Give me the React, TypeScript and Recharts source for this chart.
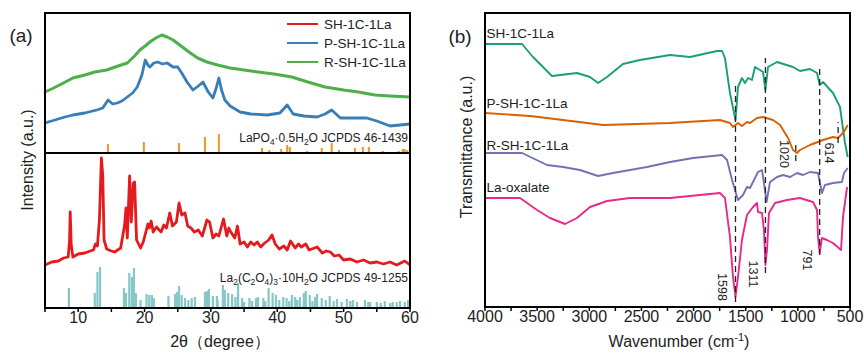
import React from 'react';
import {
  ComposedChart,
  Line,
  XAxis,
  YAxis,
  ReferenceLine,
  ReferenceDot,
  Legend,
} from 'recharts';

const FONT = '"Liberation Sans", Arial, Helvetica, sans-serif';

const xrdTicks = [5, 10, 15, 20, 25, 30, 35, 40, 45, 50, 55, 60];
const xrdDomain: [number, number] = [5, 60];
const xrdRange: [number, number] = [0, 295];

const shXrd: [number, number][] = [
  [5, 43], [6, 46], [7, 47], [7.8, 50], [8.5, 51], [8.7, 68], [8.8, 96], [8.95, 63], [9.2, 51], [10, 54], [11, 55], [11.8, 57], [12.3, 58],
  [12.6, 64], [12.9, 62], [13.2, 88], [13.5, 150], [13.7, 133], [13.9, 68], [14.3, 59], [15.0, 57], [15.5, 56],
  [16.4, 60], [17.0, 83], [17.2, 100], [17.4, 70], [17.75, 132], [18.0, 86], [18.3, 125], [18.5, 126],
  [18.8, 68], [19.4, 60], [19.8, 66], [20.2, 76], [20.5, 84], [20.7, 80], [21.0, 87], [21.3, 76], [21.8, 81], [22.2, 78], [22.5, 76], [22.9, 83], [23.3, 80],
  [23.8, 95], [24.2, 82], [24.8, 86], [25.2, 105], [25.6, 93], [26.1, 95], [26.5, 82], [27.0, 80], [27.5, 76], [28.1, 78],
  [28.7, 72], [29.4, 88], [29.8, 86], [30.3, 70], [30.8, 74], [31.2, 72], [31.9, 89], [32.4, 72], [32.7, 80], [33.0, 76],
  [33.6, 70], [34.0, 82], [34.4, 64], [35.0, 66], [35.5, 61], [36.0, 66], [36.5, 63], [37.0, 66], [37.5, 61], [38.1, 65], [38.7, 68], [39.2, 73],
  [39.7, 64], [40.3, 59], [41.0, 62], [41.5, 58], [42.0, 67], [42.7, 60], [43.2, 64], [43.6, 61], [44.3, 64], [44.8, 58], [45.2, 59],
  [46.0, 61], [46.8, 55], [47.4, 57], [48.0, 56], [48.6, 52], [49.3, 53], [50, 48], [51, 49], [52, 46], [53, 48], [54, 45], [55, 46], [56, 44], [57, 46], [58, 43],
  [59.2, 47], [60, 43],
];

const pShXrd: [number, number][] = [
  [5, 185], [6.5, 188], [8, 191], [9.2, 193], [11, 195], [12.8, 198], [13.7, 200], [14.5, 208],
  [15.2, 204], [15.9, 205], [16.6, 207], [17.4, 211], [18.2, 215], [18.9, 221], [19.6, 233],
  [20.1, 248], [20.5, 243], [20.8, 241], [21.4, 245], [22, 246], [22.7, 244], [23.4, 245], [24.3, 241],
  [25, 241], [25.7, 234], [26.4, 226], [27.3, 218], [28.1, 222], [28.8, 226], [29.6, 216], [30.3, 210],
  [30.8, 220], [31.2, 230], [31.6, 218], [32.1, 208], [32.9, 202], [34.4, 196], [36, 194], [38.5, 193],
  [40.4, 195], [41.5, 203], [42.4, 194], [44, 192], [46, 191], [47.2, 194], [48.2, 198], [49.5, 190],
  [51, 190], [53.5, 190], [55, 187], [57, 182], [58.5, 183], [60, 184],
];

const rShXrd: [number, number][] = [
  [5, 216], [6, 219], [7.5, 224], [9.2, 230], [11, 233], [12.5, 236], [14.3, 238], [16, 242],
  [17.4, 245], [18.5, 252], [19.3, 258], [20.1, 262], [20.8, 266], [21.7, 270], [22.6, 273],
  [23.4, 271], [24.3, 268], [25.5, 262], [26.9, 255], [28, 250], [29.4, 246], [31, 243], [32.9, 240],
  [35, 238], [37.1, 236], [39.5, 234], [42.2, 231], [44.6, 226], [47.2, 221], [50, 218], [52.2, 216],
  [54.7, 213], [57, 212], [60, 211],
];

const lapo4Sticks: [number, number][] = [
  [14.5, 9], [19.9, 11], [25.2, 10], [29.1, 16], [31.2, 19], [37.7, 5], [38.8, 3], [40.6, 4],
  [41.5, 8], [41.9, 6], [44.5, 2], [46.7, 5], [48.2, 10], [49.3, 3], [51.7, 5], [52.9, 6], [53.8, 6],
  [55.9, 2], [58.3, 2], [58.9, 4], [59.2, 4], [59.6, 3],
];
const lapo4Base = 155;

const oxalateSticks: [number, number][] = [
  [8.6, 20], [12.5, 15], [12.9, 36], [13.3, 41], [16.9, 20], [17.2, 15], [17.7, 35], [18.1, 31],
  [18.4, 40], [18.7, 15], [19.4, 8], [20.3, 14], [20.7, 13], [21.1, 13], [21.4, 10], [23.6, 12],
  [24.6, 14], [24.9, 16], [25.2, 22], [25.6, 13], [26.1, 10], [26.6, 8], [27.1, 10], [27.6, 11],
  [29.1, 16], [29.4, 17], [29.7, 19], [30.3, 12], [30.9, 12], [31.0, 8], [31.8, 23], [32.1, 18],
  [32.6, 15], [33.2, 14], [33.7, 11], [34.1, 25], [34.7, 10], [35.0, 6], [35.8, 10], [36.2, 7],
  [36.8, 10], [37.1, 11], [37.9, 10], [38.2, 7], [38.7, 20], [39.3, 15], [39.8, 13], [40.3, 8],
  [40.9, 11], [41.4, 10], [41.8, 7], [42.2, 13], [42.7, 11], [43.0, 8], [43.4, 11], [44.0, 15],
  [44.3, 17], [44.9, 13], [45.3, 7], [45.7, 11], [46.0, 14], [46.7, 10], [47.3, 8], [47.9, 12],
  [48.5, 7], [49.0, 9], [49.7, 6], [50.5, 9], [51.0, 7], [51.4, 8], [52.0, 6], [53.2, 8], [53.7, 6],
  [54.0, 6], [55.0, 6], [55.6, 5], [56.2, 7], [57.0, 5], [57.4, 6], [58.0, 6], [58.5, 7], [59.2, 6],
  [59.7, 8],
];
const oxalateBase = 0;

const legendItems: [string, string][] = [
  ['SH-1C-1La', '#e41a1c'],
  ['P-SH-1C-1La', '#377eb8'],
  ['R-SH-1C-1La', '#4daf4a'],
];

const irTicks = [4000, 3750, 3500, 3250, 3000, 2750, 2500, 2250, 2000, 1750, 1500, 1250, 1000, 750, 500];
const irDomain: [number, number] = [500, 4000];
const irRange: [number, number] = [0, 294];

const shIr: [number, number][] = [
  [4000, 263], [3645, 263], [3540, 250], [3358, 231], [3118, 234], [2993, 230], [2916, 224],
  [2830, 230], [2677, 243], [2514, 247], [2226, 252], [2034, 250], [1775, 256], [1727, 256],
  [1699, 249], [1651, 214], [1598, 187], [1574, 220], [1536, 229], [1507, 224], [1478, 229],
  [1440, 227], [1411, 240], [1363, 237], [1334, 235], [1311, 217], [1286, 240], [1200, 245],
  [1047, 240], [980, 236], [884, 238], [816, 234], [791, 222], [759, 225], [663, 214], [596, 200],
  [548, 164], [522, 150],
];

const pShIr: [number, number][] = [
  [4000, 194], [3568, 191], [3252, 187], [2868, 182], [2542, 183], [2226, 184], [1747, 187],
  [1651, 184], [1622, 180], [1574, 184], [1536, 181], [1488, 185], [1459, 184], [1392, 189],
  [1334, 190], [1238, 187], [1171, 182], [1094, 169], [1047, 157], [1008, 154], [980, 157],
  [884, 162], [759, 167], [663, 170], [615, 169], [567, 174], [548, 177], [522, 182],
];

const rShIr: [number, number][] = [
  [4000, 154], [3645, 154], [3405, 142], [3252, 140], [3089, 137], [2916, 131], [2773, 134],
  [2610, 137], [2447, 140], [2226, 145], [2005, 149], [1727, 152], [1679, 147], [1631, 127],
  [1574, 107], [1526, 112], [1488, 120], [1459, 119], [1411, 129], [1382, 135], [1344, 137],
  [1325, 124], [1300, 105], [1267, 125], [1200, 130], [1142, 132], [1075, 130], [1008, 134],
  [951, 132], [884, 135], [807, 134], [769, 114], [740, 122], [663, 124], [577, 125], [558, 134],
  [522, 139],
];

const oxIr: [number, number][] = [
  [4000, 109], [3664, 109], [3501, 97], [3377, 89], [3233, 83], [3118, 89], [2993, 100],
  [2830, 106], [2610, 109], [2226, 109], [1747, 114], [1699, 109], [1651, 70], [1622, 30],
  [1598, 10], [1574, 30], [1536, 67], [1488, 92], [1430, 100], [1392, 104], [1382, 95], [1344, 94],
  [1325, 77], [1311, 42], [1296, 57], [1277, 94], [1219, 104], [1104, 107], [980, 109], [855, 105],
  [816, 97], [807, 70], [791, 54], [769, 69], [721, 67], [663, 64], [586, 57], [567, 90], [528, 120],
];

const peakLines: [number, number, number][] = [
  [1598, 5, 222], [1311, 34, 249], [791, 52, 242], [1020, 146, 164], [614, 164, 185],
];
const peakLabels: [string, number, number][] = [
  ['1598', 1727, 20], ['1311', 1430, 33], ['791', 912, 47], ['1020', 1133, 153], ['614', 701, 154],
];
const irNames: [string, number, number][] = [
  ['SH-1C-1La', 3985, 274], ['P-SH-1C-1La', 3985, 204], ['R-SH-1C-1La', 3985, 162], ['La-oxalate', 3985, 120],
];

const toPts = (arr: [number, number][]) => arr.map(([x, y]) => ({ x, y }));
const toSticks = (arr: [number, number][], base: number) => {
  const out: { x: number; y: number | null }[] = [];
  arr.forEach(([x, h]) => {
    out.push({ x, y: base });
    out.push({ x, y: base + h });
    out.push({ x, y: null });
  });
  return out;
};

type Part = [string, 'n' | 'sub' | 'sup'];

const RichText = (props: any) => {
  const { viewBox, parts, anchor = 'start', size = 12, rotate = false } = props;
  if (!viewBox) return null;
  const cx = viewBox.x + (viewBox.width || 0) / 2;
  const cy = viewBox.y + (viewBox.height || 0) / 2;
  let shift = 0;
  const spans = (parts as Part[]).map(([t, kind], i) => {
    const target = kind === 'sub' ? size * 0.3 : kind === 'sup' ? -size * 0.4 : 0;
    const dy = target - shift;
    shift = target;
    return (
      <tspan key={i} dy={dy} fontSize={kind === 'n' ? size : size * 0.7}>
        {t}
      </tspan>
    );
  });
  return (
    <text
      x={cx}
      y={cy}
      textAnchor={anchor}
      dominantBaseline="central"
      fontSize={size}
      fontFamily={FONT}
      fill="#222"
      transform={rotate ? `rotate(90 ${cx} ${cy})` : undefined}
    >
      {spans}
    </text>
  );
};

const legendContent = () => (
  <div style={{ fontFamily: FONT, fontSize: 13.5, lineHeight: '19px', color: '#222' }}>
    {legendItems.map(([name, color]) => (
      <div key={name} style={{ display: 'flex', alignItems: 'center', whiteSpace: 'nowrap' }}>
        <span style={{ display: 'inline-block', width: 31, height: 2.5, background: color, marginRight: 6 }} />
        {name}
      </div>
    ))}
  </div>
);

const tickStyle = { fontSize: 16, fill: '#222', fontFamily: FONT };
const FRAME_COLOR = '#000';

const edge = (left: number, top: number, width: number, height: number): React.CSSProperties => ({
  position: 'absolute',
  left,
  top,
  width,
  height,
  background: FRAME_COLOR,
  pointerEvents: 'none',
});
const frameEdges = (l: number, t: number, r: number, b: number) => [
  edge(l - 1, t - 1, r - l + 2, 2),
  edge(l - 1, b - 1, r - l + 2, 2),
  edge(l - 1, t - 1, 2, b - t + 2),
  edge(r - 1, t - 1, 2, b - t + 2),
];

export default function App() {
  return (
    <div
      style={{
        position: 'absolute',
        left: 0,
        top: 0,
        width: 864,
        height: 354,
        background: '#fff',
        fontFamily: FONT,
        color: '#222',
      }}
    >
      <div style={{ position: 'absolute', left: 0, top: 0 }}>
        <ComposedChart width={432} height={354} margin={{ top: 13, right: 22, bottom: 0, left: 45 }}>
          <XAxis
            dataKey="x"
            type="number"
            domain={xrdDomain}
            ticks={xrdTicks}
            tickFormatter={(v: number) => (v % 10 === 0 ? String(v) : '')}
            height={46}
            tickSize={4}
            tickMargin={0}
            axisLine={{ stroke: '#000', strokeWidth: 2 }}
            tickLine={{ stroke: '#000', strokeWidth: 1.5 }}
            tick={tickStyle}
            allowDataOverflow
          />
          <YAxis type="number" domain={xrdRange} hide allowDataOverflow />
          <Line data={toSticks(lapo4Sticks, lapo4Base)} dataKey="y" name="LaPO4" legendType="none" type="linear" dot={false} stroke="#f7931e" strokeWidth={2} isAnimationActive={false} />
          <Line data={toSticks(oxalateSticks, oxalateBase)} dataKey="y" name="oxalate" legendType="none" type="linear" dot={false} stroke="#86c7c8" strokeWidth={2.2} isAnimationActive={false} />
          <Line data={toPts(shXrd)} dataKey="y" name="SH-1C-1La" type="linear" dot={false} stroke="#e41a1c" strokeWidth={2.8} strokeLinejoin="round" isAnimationActive={false} />
          <Line data={toPts(pShXrd)} dataKey="y" name="P-SH-1C-1La" type="linear" dot={false} stroke="#377eb8" strokeWidth={2.8} strokeLinejoin="round" isAnimationActive={false} />
          <Line data={toPts(rShXrd)} dataKey="y" name="R-SH-1C-1La" type="linear" dot={false} stroke="#4daf4a" strokeWidth={3} strokeLinejoin="round" isAnimationActive={false} />
          <ReferenceLine y={lapo4Base} stroke="#000" strokeWidth={2} />
          <ReferenceDot
            x={59.7}
            y={170}
            r={0}
            fill="none"
            stroke="none"
            label={<RichText anchor="end" size={12} parts={[['LaPO', 'n'], ['4', 'sub'], ['·0.5H', 'n'], ['2', 'sub'], ['O JCPDS 46-1439', 'n']]} />}
          />
          <ReferenceDot
            x={59.7}
            y={30}
            r={0}
            fill="none"
            stroke="none"
            label={<RichText anchor="end" size={12} parts={[['La', 'n'], ['2', 'sub'], ['(C', 'n'], ['2', 'sub'], ['O', 'n'], ['4', 'sub'], [')', 'n'], ['3', 'sub'], ['·10H', 'n'], ['2', 'sub'], ['O JCPDS 49-1255', 'n']]} />}
          />
          <Legend
            layout="vertical"
            align="center"
            verticalAlign="middle"
            content={legendContent}
            wrapperStyle={{ left: 287, top: 14.5, width: 130, bottom: 'auto', right: 'auto' }}
          />
        </ComposedChart>
      </div>

      <div style={{ position: 'absolute', left: 432, top: 0 }}>
        <ComposedChart width={432} height={354} margin={{ top: 13, right: 14, bottom: 0, left: 53 }}>
          <XAxis
            dataKey="x"
            type="number"
            domain={irDomain}
            reversed
            ticks={irTicks}
            tickFormatter={(v: number) => (v % 500 === 0 ? String(v) : '')}
            height={47}
            tickSize={4}
            tickMargin={0}
            axisLine={{ stroke: '#000', strokeWidth: 2 }}
            tickLine={{ stroke: '#000', strokeWidth: 1.5 }}
            tick={tickStyle}
            allowDataOverflow
          />
          <YAxis type="number" domain={irRange} hide allowDataOverflow />
          <Line data={toPts(shIr)} dataKey="y" name="SH-1C-1La" legendType="none" type="linear" dot={false} stroke="#1b9e77" strokeWidth={1.9} strokeLinejoin="round" isAnimationActive={false} />
          <Line data={toPts(pShIr)} dataKey="y" name="P-SH-1C-1La" legendType="none" type="linear" dot={false} stroke="#d95f02" strokeWidth={1.9} strokeLinejoin="round" isAnimationActive={false} />
          <Line data={toPts(rShIr)} dataKey="y" name="R-SH-1C-1La" legendType="none" type="linear" dot={false} stroke="#7570b3" strokeWidth={1.9} strokeLinejoin="round" isAnimationActive={false} />
          <Line data={toPts(oxIr)} dataKey="y" name="La-oxalate" legendType="none" type="linear" dot={false} stroke="#e7298a" strokeWidth={1.9} strokeLinejoin="round" isAnimationActive={false} />
          {peakLines.map(([w, a, b]) => (
            <ReferenceLine
              key={'pl' + w}
              segment={[{ x: w, y: a }, { x: w, y: b }]}
              stroke="#222"
              strokeWidth={1.3}
              strokeDasharray="6 4"
            />
          ))}
          {peakLabels.map(([t, x, y]) => (
            <ReferenceDot
              key={'lb' + t}
              x={x}
              y={y}
              r={0}
              fill="none"
              stroke="none"
              label={<RichText anchor="middle" size={12.5} rotate parts={[[t, 'n']]} />}
            />
          ))}
          {irNames.map(([t, x, y]) => (
            <ReferenceDot
              key={'nm' + t}
              x={x}
              y={y}
              r={0}
              fill="none"
              stroke="none"
              label={<RichText anchor="start" size={13.5} parts={[[t, 'n']]} />}
            />
          ))}
        </ComposedChart>
      </div>

      {frameEdges(45, 13, 410, 308).map((s, i) => <div key={'fa' + i} style={s} />)}
      {frameEdges(485, 13, 850, 307).map((s, i) => <div key={'fb' + i} style={s} />)}

      <div style={{ position: 'absolute', left: 21, top: 35, transform: 'translate(-50%,-50%)', fontSize: 19, lineHeight: '19px', whiteSpace: 'nowrap' }}>(a)</div>
      <div style={{ position: 'absolute', left: 460, top: 36, transform: 'translate(-50%,-50%)', fontSize: 19, lineHeight: '19px', whiteSpace: 'nowrap' }}>(b)</div>
      <div style={{ position: 'absolute', left: 28, top: 160, transform: 'translate(-50%,-50%) rotate(-90deg)', fontSize: 16, lineHeight: '16px', whiteSpace: 'nowrap' }}>Intensity (a.u.)</div>
      <div style={{ position: 'absolute', left: 467, top: 147, transform: 'translate(-50%,-50%) rotate(-90deg)', fontSize: 16, lineHeight: '16px', whiteSpace: 'nowrap' }}>Transmittance (a.u.)</div>
      <div style={{ position: 'absolute', left: 220, top: 334, transform: 'translateX(-50%)', fontSize: 16, lineHeight: '16px', whiteSpace: 'nowrap' }}>2θ（degree）</div>
      <div style={{ position: 'absolute', left: 679, top: 334, transform: 'translateX(-50%)', fontSize: 16, lineHeight: '16px', whiteSpace: 'nowrap' }}>
        Wavenumber (cm<sup style={{ fontSize: 11, lineHeight: 0 }}>-1</sup>)
      </div>
    </div>
  );
}
